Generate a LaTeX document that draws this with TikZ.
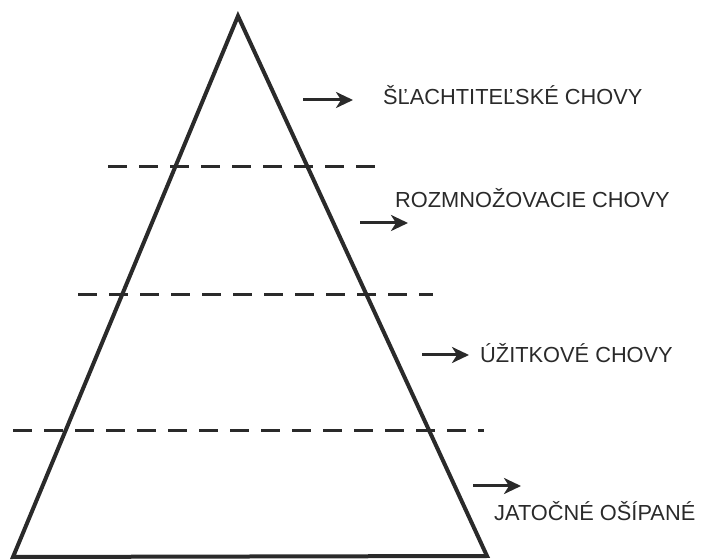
\documentclass[tikz,border=0pt]{standalone}
\usepackage{fontspec}
\setmainfont{Liberation Sans}
\usetikzlibrary{arrows.meta}
\definecolor{ink}{HTML}{2A2A2A}
\tikzset{
  tri/.style={draw=ink, line width=4pt, line join=miter},
  sep/.style={draw=ink, line width=3pt, dash pattern=on 19pt off 12pt},
  pointer/.style={draw=ink, line width=3pt, -{Stealth[length=17pt,width=16pt,inset=5pt]}},
  lbl/.style={anchor=base west, inner sep=0pt, text=ink, font=\fontsize{21.8}{26}\selectfont}
}
\begin{document}
\begin{tikzpicture}[x=1pt,y=1pt]
\useasboundingbox (0,0) rectangle (705,560);
% pyramid
\coordinate (bl) at (13,3);
\coordinate (top) at (238,544);
\coordinate (br) at (487,4);
\draw[tri] (bl) -- (top) -- (br) -- cycle;
% dashed separators
\coordinate (d1a) at (108,393); \coordinate (d1b) at (377,393);
\coordinate (d2a) at (78,265);  \coordinate (d2b) at (433,265);
\coordinate (d3a) at (13,129);  \coordinate (d3b) at (484,129);
\draw[sep] (d1a) -- (d1b);
\draw[sep] (d2a) -- (d2b);
\draw[sep] (d3a) -- (d3b);
% labels
\node[lbl] (t1) at (383,455) {ŠĽACHTITEĽSKÉ CHOVY};
\node[lbl] (t2) at (395,352) {ROZMNOŽOVACIE CHOVY};
\node[lbl] (t3) at (480,197) {ÚŽITKOVÉ CHOVY};
\node[lbl] (t4) at (494,39) {JATOČNÉ OŠÍPANÉ};
% arrows
\coordinate (a1s) at (303,460); \coordinate (a1e) at (353,460);
\coordinate (a2s) at (360,337); \coordinate (a2e) at (408,337);
\coordinate (a3s) at (422,205); \coordinate (a3e) at (469,205);
\coordinate (a4s) at (473,74);  \coordinate (a4e) at (521,74);
\draw[pointer] (a1s) -- (a1e);
\draw[pointer] (a2s) -- (a2e);
\draw[pointer] (a3s) -- (a3e);
\draw[pointer] (a4s) -- (a4e);
\end{tikzpicture}
\end{document}
